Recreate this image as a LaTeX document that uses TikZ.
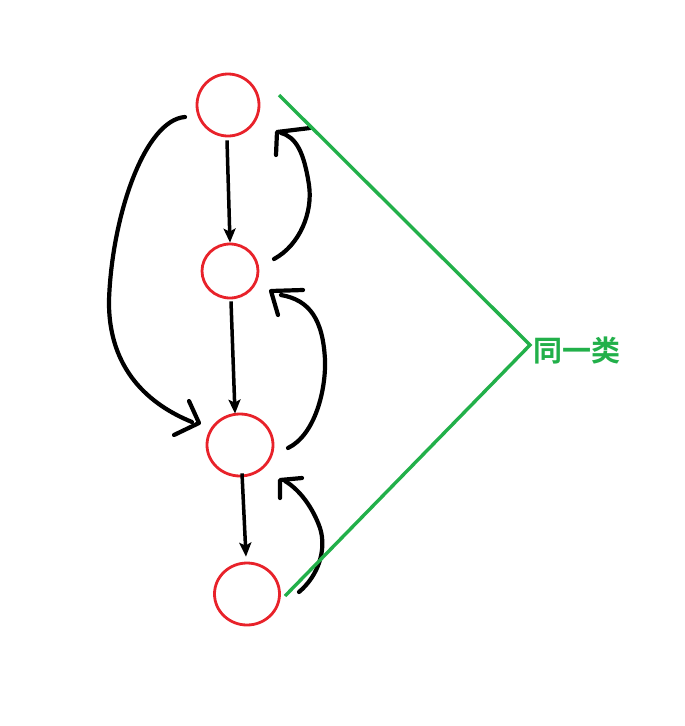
\documentclass[tikz,border=0pt]{standalone}
\usepackage{fontspec}
\newfontfamily\cjk{Noto Sans CJK SC Bold}
\usetikzlibrary{arrows.meta,shapes.geometric}
\definecolor{cred}{RGB}{232,34,42}
\definecolor{cgreen}{RGB}{34,176,74}
\begin{document}
\begin{tikzpicture}[x=1pt,y=-1pt,
  vert/.style={draw=cred,line width=2.8pt,ellipse,inner sep=0pt},
  flow/.style={line width=3.5pt,-{Stealth[length=14pt,width=12pt,inset=3pt]}},
  hand/.style={line width=4.2pt,line cap=round,line join=round},
  grp/.style={draw=cgreen,line width=3.4pt}]
\useasboundingbox (0,0) rectangle (685,726);
\node[vert,minimum width=62pt,minimum height=62pt] (n1) at (228,105) {};
\node[vert,minimum width=56pt,minimum height=54pt] (n2) at (230,271) {};
\node[vert,minimum width=66pt,minimum height=62pt] (n3) at (240,445) {};
\node[vert,minimum width=65pt,minimum height=62pt] (n4) at (247,594) {};
% straight arrows
\draw[flow] ([xshift=-1pt,yshift=-3pt]n1.south) -- (n2.north);
\draw[flow] ([xshift=1pt,yshift=-2pt]n2.south) -- ([xshift=-5pt,yshift=-1pt]n3.north);
\draw[flow] ([xshift=2pt,yshift=4pt]n3.south) -- ([xshift=-1pt,yshift=5pt]n4.north);
% hand-drawn curves
\coordinate (a1) at (185,117);
\coordinate (a2) at (192,422);
\draw[hand] (a1) .. controls (145,120) and (112,215) .. (109,300)
  .. controls (108,370) and (150,405) .. (a2);
\draw[hand] (189,401) -- (199,423) -- (174,435);
\coordinate (b1) at (274,259);
\coordinate (b2) at (281,133);
\draw[hand] (b1) .. controls (300,245) and (313,212) .. (309,185)
  .. controls (304,152) and (296,137) .. (b2);
\draw[hand] (310,128) -- (277,132) -- (276,155);
\coordinate (c1) at (288,448);
\coordinate (c2) at (281,295);
\draw[hand] (c1) .. controls (315,435) and (326,390) .. (325,360)
  .. controls (323,320) and (310,300) .. (c2);
\draw[hand] (303,290) -- (271,291) -- (278,315);
\coordinate (d1) at (299,592);
\coordinate (d2) at (285,481);
\draw[hand] (d1) .. controls (318,576) and (327,550) .. (320,528)
  .. controls (313,508) and (300,490) .. (d2);
\draw[hand] (302,478) -- (280,480) -- (280,498);
% group
\coordinate (g1) at (279,95);
\coordinate (g2) at (530,345);
\coordinate (g3) at (285,596);
\draw[grp] (g1) -- (g2) -- (g3);
\node[anchor=west,text=cgreen,font=\cjk\fontsize{29}{29}\selectfont,inner sep=0pt] (lab) at (533,351) {同一类};
\end{tikzpicture}
\end{document}
